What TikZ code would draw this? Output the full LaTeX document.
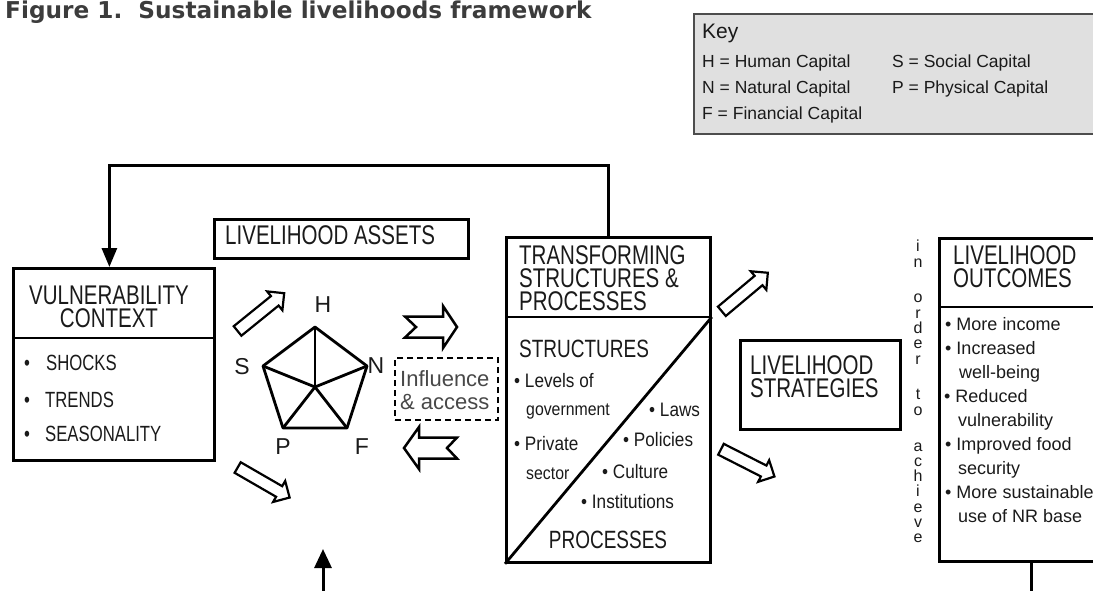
\documentclass[tikz,border=0pt]{standalone}
\usepackage{fontspec}
\setmainfont{Liberation Sans}
\newfontfamily\cnd{Liberation Sans}[FakeStretch=0.76]
\newfontfamily\semicnd{Liberation Sans}[FakeStretch=0.88]
\newfontfamily\ttlfont{DejaVu Sans}
\usetikzlibrary{arrows.meta,shapes.arrows}

\definecolor{ink}{HTML}{1A1A1A}
\definecolor{titlegray}{HTML}{3C3C3C}
\definecolor{keyfill}{HTML}{E0E0E0}
\definecolor{keyedge}{HTML}{4D4D4D}

\tikzset{
  txt/.style={inner sep=0pt, anchor=base west, text=ink},
  heading/.style={txt, font=\cnd\fontsize{27}{23}\selectfont},
  headblock/.style={inner sep=0pt, text=ink, anchor=north west, align=left,
    font=\cnd\fontsize{27}{23}\selectfont},
  midhead/.style={txt, font=\cnd\fontsize{25}{25}\selectfont},
  capsitem/.style={txt, font=\cnd\fontsize{22}{22}\selectfont},
  item/.style={txt, font=\semicnd\fontsize{19.5}{19.5}\selectfont},
  smallitem/.style={txt, font=\semicnd\fontsize{18}{18}\selectfont},
  outitem/.style={txt, font=\fontsize{18}{18}\selectfont},
  keytxt/.style={txt, font=\fontsize{17.5}{18}\selectfont},
  assetlbl/.style={inner sep=0pt, text=ink, font=\fontsize{23}{23}\selectfont},
  frame/.style={draw, line width=2.8pt, inner sep=0pt, anchor=north west},
  rule/.style={line width=2.8pt},
  loopline/.style={line width=3pt},
  hollow/.style={single arrow, draw, line width=2.2pt, inner sep=5pt,
    minimum height=60pt, single arrow head extend=6pt},
  notched/.style={draw, line width=2.5pt, line join=miter},
  pent/.style={line width=2.8pt, line join=round}
}

\begin{document}
\begin{tikzpicture}[x=1pt,y=-1pt]
\clip (0,0) rectangle (1093,590);

% title
\node[txt, text=titlegray, font=\ttlfont\bfseries\fontsize{23.2}{26}\selectfont]
  (title) at (5,18) {Figure 1.\ \ Sustainable livelihoods framework};

% key
\node[frame, draw=keyedge, fill=keyfill, line width=2.4pt,
  minimum width=420pt, minimum height=120pt] (key) at (693,13) {};
\node[txt, font=\fontsize{21}{21}\selectfont] (keyhead) at (702,38) {Key};
\node[keytxt] (kh) at (702,67) {H = Human Capital};
\node[keytxt] (kn) at (702,93) {N = Natural Capital};
\node[keytxt] (kf) at (702,119) {F = Financial Capital};
\node[keytxt] (ks) at (892,67) {S = Social Capital};
\node[keytxt] (kp) at (892,93) {P = Physical Capital};

% vulnerability context
\node[frame, minimum width=201pt, minimum height=192pt] (vc) at (12,267) {};
\draw[rule] (12,338) -- (215,338);
\node[headblock, align=center, anchor=north] (vct) at (109,285.7)
  {VULNERABILITY\\CONTEXT};
\node[capsitem] (vb1) at (24,370) {\makebox[22pt][l]{•}SHOCKS};
\node[capsitem] (vb2) at (24,407) {\makebox[21pt][l]{•}TRENDS};
\node[capsitem] (vb3) at (24,441) {\makebox[21pt][l]{•}SEASONALITY};

% livelihood assets
\node[frame, minimum width=254pt, minimum height=39pt] (la) at (213,218) {};
\node[heading] (lat) at (225,244) {LIVELIHOOD ASSETS};

% asset pentagon
\coordinate (pH) at (315,327);
\coordinate (pN) at (367,366);
\coordinate (pF) at (347,428);
\coordinate (pP) at (283,428);
\coordinate (pS) at (263,366);
\coordinate (pC) at (315,387);
\draw[pent] (pH) -- (pN) -- (pF) -- (pP) -- (pS) -- cycle;
\foreach \v in {pH,pN,pF,pP,pS} \draw[pent] (pC) -- (\v);
\node[assetlbl] (lH) at (323,305) {H};
\node[assetlbl] (lN) at (376,366) {N};
\node[assetlbl] (lF) at (362,447) {F};
\node[assetlbl] (lP) at (283,447) {P};
\node[assetlbl] (lS) at (242,367) {S};

% hollow arrows around the assets and strategies
\node[hollow, rotate=39] (a1) at (258.5,314) {};
\node[hollow, rotate=-30] (a2) at (261,481) {};
\node[hollow, rotate=40] (a3) at (742.5,294) {};
\node[hollow, rotate=-27] (a4) at (745,461.5) {};

% notched arrows between assets and structures
\draw[notched] (405,316.5) -- (443,316.5) -- (443,306) -- (457,327) -- (443,348)
  -- (443,337.5) -- (405,337.5) -- (416,327) -- cycle;
\draw[notched] (457,437.5) -- (419,437.5) -- (419,427) -- (404,448) -- (419,469)
  -- (419,458.5) -- (457,458.5) -- (447,448) -- cycle;

% influence and access
\node[frame, line width=2pt, dash pattern=on 6pt off 4pt,
  minimum width=103pt, minimum height=62pt] (ia) at (394,357) {};
\node[txt, text=ink!80, font=\fontsize{22}{22}\selectfont] (ia1) at (400,386) {Influence};
\node[txt, text=ink!80, font=\fontsize{22}{22}\selectfont] (ia2) at (400,409) {\& access};

% transforming structures and processes
\node[frame, minimum width=204pt, minimum height=325pt] (ts) at (505,236) {};
\draw[rule] (505,317) -- (709,317);
\draw[rule] (ts.south west) -- (ts.north east |- 0,317);
\node[headblock] (tst) at (519,245.7) {TRANSFORMING\\STRUCTURES \&\\PROCESSES};
\node[midhead] (tss) at (519,357) {STRUCTURES};
\node[item] (ti1) at (514,387) {• Levels of};
\node[smallitem] (ti2) at (526,415) {government};
\node[item] (ti3) at (514,450) {• Private};
\node[smallitem] (ti4) at (526,479) {sector};
\node[item] (ti5) at (649,416) {• Laws};
\node[item] (ti6) at (623,446) {• Policies};
\node[item] (ti7) at (602,478) {• Culture};
\node[item] (ti8) at (581,508) {• Institutions};
\node[midhead, anchor=base] (tsp) at (608,548) {PROCESSES};

% livelihood strategies
\node[frame, minimum width=160pt, minimum height=89pt] (ls) at (739,339) {};
\node[headblock] (lst) at (750,355.7) {LIVELIHOOD\\STRATEGIES};

% in order to achieve
\node[inner sep=0pt, anchor=north, align=center, text=ink,
  font=\fontsize{16}{15.3}\selectfont] (ioa) at (918,240)
  {i\\n\\[20.5pt]o\\r\\d\\e\\r\\[20.5pt]t\\o\\[20.5pt]a\\c\\h\\i\\e\\v\\e};

% livelihood outcomes
\node[frame, minimum width=170pt, minimum height=323pt] (lo) at (938,237) {};
\draw[rule] (938,307) -- (1110,307);
\node[headblock] (lot) at (953,245.7) {LIVELIHOOD\\OUTCOMES};
\node[outitem] (lo1) at (945,330) {• More income};
\node[outitem] (lo2) at (945,354) {• Increased};
\node[outitem] (lo3) at (959,378) {well-being};
\node[outitem] (lo4) at (944,402) {• Reduced};
\node[outitem] (lo5) at (958,426) {vulnerability};
\node[outitem] (lo6) at (945,450) {• Improved food};
\node[outitem] (lo7) at (958,474) {security};
\node[outitem] (lo8) at (945,498) {• More sustainable};
\node[outitem] (lo9) at (958,522) {use of NR base};

% feedback loop back to the vulnerability context
\draw[loopline, -{Triangle[width=15pt,length=19pt]}]
  (ts.north) -- ++(0,-71) -| ([xshift=-4.5pt]vc.north);

% line leaving the outcomes box
\coordinate (outdown) at (1031,595);
\draw[loopline] (lo.south west -| outdown) -- (outdown);

% arrow entering the assets from below
\coordinate (upfrom) at (323,595);
\coordinate (upto) at (323,549);
\draw[loopline, -{Triangle[width=17pt,length=19pt]}] (upfrom) -- (upto);
\end{tikzpicture}
\end{document}
